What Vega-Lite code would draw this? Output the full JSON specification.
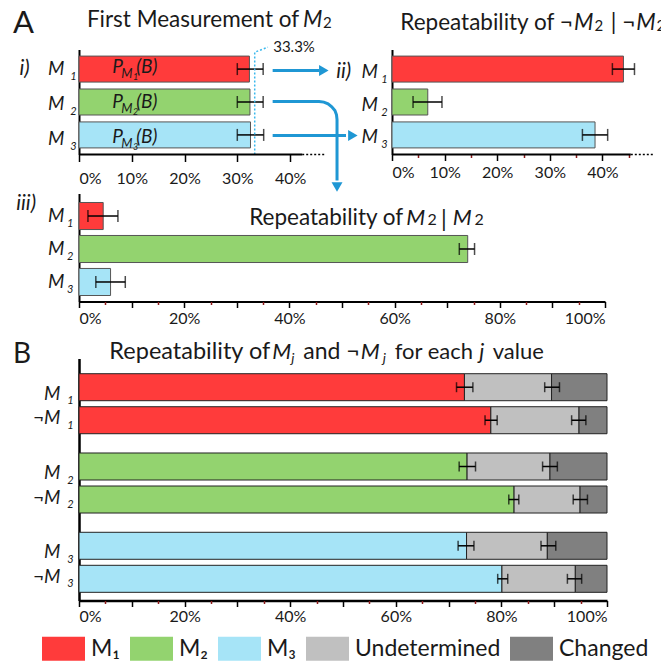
{
"$schema": "https://vega.github.io/schema/vega-lite/v6.json",
"padding": {"left": 12, "top": 7.5, "right": 0, "bottom": 0},
"background": "white",
"config": {
  "font": "Lato",
  "view": {"stroke": null},
  "axis": {"grid": false, "labelFont": "Lato", "labelColor": "#1a1a1a", "domainColor": "#000", "tickColor": "#000"},
  "text": {"color": "#1a1a1a"}
},
"datasets": {
  "dI": [{"m":"M₁","sub":"1","p":32.3,"lo":30.0,"hi":34.9},{"m":"M₂","sub":"2","p":32.4,"lo":30.0,"hi":34.9},{"m":"M₃","sub":"3","p":32.5,"lo":30.0,"hi":35.0}],
  "dII": [{"m":"M₁","sub":"1","p":44.0,"lo":41.9,"hi":46.1},{"m":"M₂","sub":"2","p":6.8,"lo":4.0,"hi":9.5},{"m":"M₃","sub":"3","p":38.6,"lo":36.2,"hi":41.0}],
  "dIII": [{"m":"M₁","sub":"1","p":4.6,"lo":1.7,"hi":7.4},{"m":"M₂","sub":"2","p":73.9,"lo":72.3,"hi":75.2},{"m":"M₃","sub":"3","p":6.0,"lo":3.2,"hi":8.8}],
  "segs": [
    {"j":"1","neg":"M","seg":"M₁","x0":0,"x1":73.0},
    {"j":"1","neg":"M","seg":"Undetermined","x0":73.0,"x1":89.5},
    {"j":"1","neg":"M","seg":"Changed","x0":89.5,"x1":100},
    {"j":"1","neg":"¬M","seg":"M₁","x0":0,"x1":78.0},
    {"j":"1","neg":"¬M","seg":"Undetermined","x0":78.0,"x1":94.7},
    {"j":"1","neg":"¬M","seg":"Changed","x0":94.7,"x1":100},
    {"j":"2","neg":"M","seg":"M₂","x0":0,"x1":73.5},
    {"j":"2","neg":"M","seg":"Undetermined","x0":73.5,"x1":89.2},
    {"j":"2","neg":"M","seg":"Changed","x0":89.2,"x1":100},
    {"j":"2","neg":"¬M","seg":"M₂","x0":0,"x1":82.4},
    {"j":"2","neg":"¬M","seg":"Undetermined","x0":82.4,"x1":94.9},
    {"j":"2","neg":"¬M","seg":"Changed","x0":94.9,"x1":100},
    {"j":"3","neg":"M","seg":"M₃","x0":0,"x1":73.4},
    {"j":"3","neg":"M","seg":"Undetermined","x0":73.4,"x1":88.7},
    {"j":"3","neg":"M","seg":"Changed","x0":88.7,"x1":100},
    {"j":"3","neg":"¬M","seg":"M₃","x0":0,"x1":80.1},
    {"j":"3","neg":"¬M","seg":"Undetermined","x0":80.1,"x1":94.0},
    {"j":"3","neg":"¬M","seg":"Changed","x0":94.0,"x1":100}
  ],
  "errB": [
    {"j":"1","neg":"M","lo":71.5,"hi":74.6},{"j":"1","neg":"M","lo":88.2,"hi":91.0},
    {"j":"1","neg":"¬M","lo":76.9,"hi":79.2},{"j":"1","neg":"¬M","lo":93.3,"hi":96.0},
    {"j":"2","neg":"M","lo":72.0,"hi":75.1},{"j":"2","neg":"M","lo":87.8,"hi":90.6},
    {"j":"2","neg":"¬M","lo":81.4,"hi":83.3},{"j":"2","neg":"¬M","lo":93.6,"hi":96.3},
    {"j":"3","neg":"M","lo":71.8,"hi":74.8},{"j":"3","neg":"M","lo":87.5,"hi":90.3},
    {"j":"3","neg":"¬M","lo":79.3,"hi":81.2},{"j":"3","neg":"¬M","lo":92.5,"hi":95.2}
  ],
  "labB": [
    {"j":"1","neg":"M","lab":"M","sub":"1"},{"j":"1","neg":"¬M","lab":"¬M","sub":"1"},
    {"j":"2","neg":"M","lab":"M","sub":"2"},{"j":"2","neg":"¬M","lab":"¬M","sub":"2"},
    {"j":"3","neg":"M","lab":"M","sub":"3"},{"j":"3","neg":"¬M","lab":"¬M","sub":"3"}
  ],
  "arrows": [
    {"a":"m1","o":0,"x":36.7,"y":1.04},{"a":"m1","o":1,"x":45.5,"y":1.04},
    {"a":"m3","o":0,"x":36.7,"y":3.02},{"a":"m3","o":1,"x":50.6,"y":3.02},
    {"a":"m2","o":0,"x":36.7,"y":1.985},{"a":"m2","o":1,"x":45.5,"y":1.985},{"a":"m2","o":2,"x":46.4,"y":2.003},{"a":"m2","o":3,"x":47.2,"y":2.057},{"a":"m2","o":4,"x":47.9,"y":2.146},{"a":"m2","o":5,"x":48.5,"y":2.258},{"a":"m2","o":6,"x":48.8,"y":2.389},{"a":"m2","o":7,"x":48.9,"y":2.532},{"a":"m2","o":8,"x":48.9,"y":4.384}
  ],
  "heads": [{"dir":"right","x":46.4,"y":1.04},{"dir":"right","x":51.9,"y":3.02},{"dir":"down","x":48.9,"y":4.582}],
  "dotline": [{"o":0,"x":33.3,"y":3.595},{"o":1,"x":33.3,"y":0.487},{"o":2,"x":35.8,"y":0.335}]
},
"vconcat": [
  {
    "vconcat": [
      {
        "hconcat": [
          {
            "width": 248, "height": 105,
            "data": {"name": "dI"},
            "layer": [
              {"mark": {"type": "bar", "stroke": "#555", "strokeWidth": 1},
               "encoding": {"y": {"field": "m", "type": "nominal", "scale": {"domain": ["M₁","M₂","M₃"], "paddingInner": 0.21, "paddingOuter": 0.2}, "axis": {"labels": false, "ticks": false, "title": null, "domainWidth": 2}},
                            "x": {"field": "p", "type": "quantitative", "scale": {"domain": [0,47], "nice": false, "zero": false}, "axis": {"values": [0,10,20,30,40], "labelExpr": "datum.value + '%'", "domain": false, "tickSize": 7, "tickWidth": 1.5, "labelFontSize": 16, "labelPadding": 9, "title": null}},
                            "color": {"field": "m", "type": "nominal", "scale": {"domain": ["M₁","M₂","M₃","Undetermined","Changed"], "range": ["#ff3b3b","#93d36f","#a6e4f7","#c0c0c0","#808080"]}, "legend": null}}},
              {"mark": {"type": "rule", "strokeWidth": 1.5, "color": "#000"},
               "encoding": {"y": {"field": "m", "type": "nominal", "scale": {"domain": ["M₁","M₂","M₃"], "paddingInner": 0.21, "paddingOuter": 0.2}, "axis": null},
                            "x": {"field": "lo", "type": "quantitative", "scale": {"domain": [0,47], "nice": false, "zero": false}, "axis": null}, "x2": {"field": "hi"}}},
              {"mark": {"type": "tick", "thickness": 1.5, "size": 12, "color": "#000"},
               "encoding": {"y": {"field": "m", "type": "nominal", "scale": {"domain": ["M₁","M₂","M₃"], "paddingInner": 0.21, "paddingOuter": 0.2}, "axis": null},
                            "x": {"field": "lo", "type": "quantitative", "scale": {"domain": [0,47], "nice": false, "zero": false}, "axis": null}}},
              {"mark": {"type": "tick", "thickness": 1.5, "size": 12, "color": "#000"},
               "encoding": {"y": {"field": "m", "type": "nominal", "scale": {"domain": ["M₁","M₂","M₃"], "paddingInner": 0.21, "paddingOuter": 0.2}, "axis": null},
                            "x": {"field": "hi", "type": "quantitative", "scale": {"domain": [0,47], "nice": false, "zero": false}, "axis": null}}},
              {"mark": {"type": "text", "text": "P", "align": "left", "baseline": "alphabetic", "dx": 33.2, "dy": 6.4, "fontSize": 19, "fontStyle": "italic"},
               "encoding": {"y": {"field": "m", "type": "nominal", "scale": {"domain": ["M₁","M₂","M₃"], "paddingInner": 0.21, "paddingOuter": 0.2}, "axis": null},
                            "x": {"datum": 0, "scale": {"domain": [0,47], "nice": false, "zero": false}, "axis": null}}},
              {"mark": {"type": "text", "text": "M", "align": "left", "baseline": "alphabetic", "dx": 42.2, "dy": 11.4, "fontSize": 13, "fontStyle": "italic"},
               "encoding": {"y": {"field": "m", "type": "nominal", "scale": {"domain": ["M₁","M₂","M₃"], "paddingInner": 0.21, "paddingOuter": 0.2}, "axis": null},
                            "x": {"datum": 0, "scale": {"domain": [0,47], "nice": false, "zero": false}, "axis": null}}},
              {"mark": {"type": "text", "align": "left", "baseline": "alphabetic", "dx": 53.9, "dy": 13.1, "fontSize": 9, "fontStyle": "italic"},
               "encoding": {"y": {"field": "m", "type": "nominal", "scale": {"domain": ["M₁","M₂","M₃"], "paddingInner": 0.21, "paddingOuter": 0.2}, "axis": null},
                            "x": {"datum": 0, "scale": {"domain": [0,47], "nice": false, "zero": false}, "axis": null}, "text": {"field": "sub"}}},
              {"mark": {"type": "text", "text": "(B)", "align": "left", "baseline": "alphabetic", "dx": 57.2, "dy": 6.4, "fontSize": 19, "fontStyle": "italic"},
               "encoding": {"y": {"field": "m", "type": "nominal", "scale": {"domain": ["M₁","M₂","M₃"], "paddingInner": 0.21, "paddingOuter": 0.2}, "axis": null},
                            "x": {"datum": 0, "scale": {"domain": [0,47], "nice": false, "zero": false}, "axis": null}}},
              {"mark": {"type": "text", "text": "M", "align": "right", "baseline": "alphabetic", "dx": -14.5, "dy": 8.1, "fontSize": 19, "fontStyle": "italic"},
               "encoding": {"y": {"field": "m", "type": "nominal", "scale": {"domain": ["M₁","M₂","M₃"], "paddingInner": 0.21, "paddingOuter": 0.2}, "axis": null},
                            "x": {"datum": 0, "scale": {"domain": [0,47], "nice": false, "zero": false}, "axis": null}}},
              {"mark": {"type": "text", "align": "left", "baseline": "alphabetic", "dx": -8.8, "dy": 13.1, "fontSize": 11, "fontStyle": "italic"},
               "encoding": {"y": {"field": "m", "type": "nominal", "scale": {"domain": ["M₁","M₂","M₃"], "paddingInner": 0.21, "paddingOuter": 0.2}, "axis": null},
                            "x": {"datum": 0, "scale": {"domain": [0,47], "nice": false, "zero": false}, "axis": null}, "text": {"field": "sub"}}},
              {"transform": [{"filter": "datum.m == 'M₁'"}],
               "mark": {"type": "text", "text": "i)", "align": "left", "baseline": "alphabetic", "dx": -59.5, "dy": 8, "fontSize": 21, "fontStyle": "italic"},
               "encoding": {"y": {"field": "m", "type": "nominal", "scale": {"domain": ["M₁","M₂","M₃"], "paddingInner": 0.21, "paddingOuter": 0.2}, "axis": null},
                            "x": {"datum": 0, "scale": {"domain": [0,47], "nice": false, "zero": false}, "axis": null}}},
              {"transform": [{"filter": "datum.m == 'M₁'"}],
               "mark": {"type": "text", "text": "A", "align": "left", "baseline": "alphabetic", "dx": -66.1, "dy": -33.6, "fontSize": 31},
               "encoding": {"y": {"field": "m", "type": "nominal", "scale": {"domain": ["M₁","M₂","M₃"], "paddingInner": 0.21, "paddingOuter": 0.2}, "axis": null},
                            "x": {"datum": 0, "scale": {"domain": [0,47], "nice": false, "zero": false}, "axis": null}}},
              {"transform": [{"filter": "datum.m == 'M₁'"}],
               "mark": {"type": "text", "text": "First Measurement of", "align": "right", "baseline": "alphabetic", "dx": 220.2, "dy": -40.3, "fontSize": 22.5},
               "encoding": {"y": {"field": "m", "type": "nominal", "scale": {"domain": ["M₁","M₂","M₃"], "paddingInner": 0.21, "paddingOuter": 0.2}, "axis": null},
                            "x": {"datum": 0, "scale": {"domain": [0,47], "nice": false, "zero": false}, "axis": null}}},
              {"transform": [{"filter": "datum.m == 'M₁'"}],
               "mark": {"type": "text", "text": "M", "align": "left", "baseline": "alphabetic", "dx": 223.9, "dy": -40.3, "fontSize": 22.5, "fontStyle": "italic"},
               "encoding": {"y": {"field": "m", "type": "nominal", "scale": {"domain": ["M₁","M₂","M₃"], "paddingInner": 0.21, "paddingOuter": 0.2}, "axis": null},
                            "x": {"datum": 0, "scale": {"domain": [0,47], "nice": false, "zero": false}, "axis": null}}},
              {"transform": [{"filter": "datum.m == 'M₁'"}],
               "mark": {"type": "text", "text": "2", "align": "left", "baseline": "alphabetic", "dx": 244, "dy": -38.9, "fontSize": 15},
               "encoding": {"y": {"field": "m", "type": "nominal", "scale": {"domain": ["M₁","M₂","M₃"], "paddingInner": 0.21, "paddingOuter": 0.2}, "axis": null},
                            "x": {"datum": 0, "scale": {"domain": [0,47], "nice": false, "zero": false}, "axis": null}}},
              {"data": {"name": "arrows"},
               "mark": {"type": "line", "color": "#1f97d4", "strokeWidth": 3, "strokeCap": "butt"},
               "encoding": {"x": {"field": "x", "type": "quantitative", "scale": {"domain": [0,47], "nice": false, "zero": false}, "axis": null},
                            "y": {"field": "y", "type": "quantitative", "scale": {"domain": [0.405, 3.595], "reverse": true, "nice": false, "zero": false}, "axis": null},
                            "detail": {"field": "a"}, "order": {"field": "o"}}},
              {"data": {"name": "heads"},
               "mark": {"type": "point", "filled": true, "opacity": 1, "color": "#1f97d4", "size": 120},
               "encoding": {"x": {"field": "x", "type": "quantitative", "scale": {"domain": [0,47], "nice": false, "zero": false}, "axis": null},
                            "y": {"field": "y", "type": "quantitative", "scale": {"domain": [0.405, 3.595], "reverse": true, "nice": false, "zero": false}, "axis": null},
                            "shape": {"field": "dir", "type": "nominal", "scale": {"domain": ["right","down"], "range": ["triangle-right","triangle-down"]}, "legend": null}}},
              {"data": {"name": "dotline"},
               "mark": {"type": "line", "color": "#3ab8ec", "strokeWidth": 1.5, "strokeDash": [2,2]},
               "encoding": {"x": {"field": "x", "type": "quantitative", "scale": {"domain": [0,47], "nice": false, "zero": false}, "axis": null},
                            "y": {"field": "y", "type": "quantitative", "scale": {"domain": [0.405, 3.595], "reverse": true, "nice": false, "zero": false}, "axis": null},
                            "order": {"field": "o"}}},
              {"data": {"values": [{}]},
               "mark": {"type": "text", "text": "33.3%", "align": "left", "baseline": "alphabetic", "dx": 18.5, "fontSize": 15},
               "encoding": {"x": {"datum": 33.3, "scale": {"domain": [0,47], "nice": false, "zero": false}, "axis": null},
                            "y": {"datum": 0.487, "scale": {"domain": [0.405, 3.595], "reverse": true, "nice": false, "zero": false}, "axis": null}}},
              {"data": {"values": [{}]},
               "mark": {"type": "rule", "color": "#000", "strokeWidth": 2},
               "encoding": {"x": {"datum": 0, "scale": {"domain": [0,47], "nice": false, "zero": false}, "axis": null}, "x2": {"datum": 42.3},
                            "y": {"datum": 3.595, "scale": {"domain": [0.405, 3.595], "reverse": true, "nice": false, "zero": false}, "axis": null}}},
              {"data": {"values": [{}]},
               "mark": {"type": "rule", "color": "#000", "strokeWidth": 1.5, "strokeDash": [2,2]},
               "encoding": {"x": {"datum": 42.3, "scale": {"domain": [0,47], "nice": false, "zero": false}, "axis": null}, "x2": {"datum": 46.8},
                            "y": {"datum": 3.595, "scale": {"domain": [0.405, 3.595], "reverse": true, "nice": false, "zero": false}, "axis": null}}}
            ],
            "resolve": {"scale": {"y": "independent"}, "axis": {"x": "independent"}}
          },
          {
            "width": 263, "height": 105,
            "data": {"name": "dII"},
            "encoding": {"y": {"field": "m", "type": "nominal", "scale": {"domain": ["M₁","M₂","M₃"], "paddingInner": 0.21, "paddingOuter": 0.2}, "axis": {"labels": false, "ticks": false, "title": null, "domainWidth": 2}}},
            "layer": [
              {"mark": {"type": "bar", "stroke": "#555", "strokeWidth": 1},
               "encoding": {"x": {"field": "p", "type": "quantitative", "scale": {"domain": [0,50], "nice": false, "zero": false}, "axis": {"values": [0,10,20,30,40], "labelExpr": "datum.value + '%'", "domain": false, "tickSize": 6, "tickWidth": 1.5, "labelFontSize": 16, "labelPadding": 4, "title": null}},
                            "color": {"field": "m", "type": "nominal", "scale": {"domain": ["M₁","M₂","M₃","Undetermined","Changed"], "range": ["#ff3b3b","#93d36f","#a6e4f7","#c0c0c0","#808080"]}, "legend": null}}},
              {"mark": {"type": "rule", "strokeWidth": 1.5, "color": "#000"},
               "encoding": {"x": {"field": "lo", "type": "quantitative", "scale": {"domain": [0,50], "nice": false, "zero": false}, "axis": {"orient": "bottom", "values": [5,15,25,35,45], "labels": false, "domain": false, "tickColor": "#8b1a1a", "tickSize": 3, "tickWidth": 1.5, "title": null}}, "x2": {"field": "hi"}}},
              {"mark": {"type": "tick", "thickness": 1.5, "size": 12, "color": "#000"},
               "encoding": {"x": {"field": "lo", "type": "quantitative", "scale": {"domain": [0,50], "nice": false, "zero": false}, "axis": null}}},
              {"mark": {"type": "tick", "thickness": 1.5, "size": 12, "color": "#000"},
               "encoding": {"x": {"field": "hi", "type": "quantitative", "scale": {"domain": [0,50], "nice": false, "zero": false}, "axis": null}}},
              {"mark": {"type": "text", "text": "M", "align": "right", "baseline": "alphabetic", "dx": -14.1, "dy": 8.5, "fontSize": 19, "fontStyle": "italic"},
               "encoding": {"x": {"datum": 0, "scale": {"domain": [0,50], "nice": false, "zero": false}, "axis": null}}},
              {"mark": {"type": "text", "align": "left", "baseline": "alphabetic", "dx": -10.8, "dy": 13.5, "fontSize": 11, "fontStyle": "italic"},
               "encoding": {"x": {"datum": 0, "scale": {"domain": [0,50], "nice": false, "zero": false}, "axis": null}, "text": {"field": "sub"}}},
              {"transform": [{"filter": "datum.m == 'M₁'"}],
               "mark": {"type": "text", "text": "ii)", "align": "left", "baseline": "alphabetic", "dx": -55.8, "dy": 9, "fontSize": 21, "fontStyle": "italic"},
               "encoding": {"x": {"datum": 0, "scale": {"domain": [0,50], "nice": false, "zero": false}, "axis": null}}},
              {"transform": [{"filter": "datum.m == 'M₁'"}],
               "mark": {"type": "text", "text": "Repeatability of ¬", "align": "right", "baseline": "alphabetic", "dx": 180.7, "dy": -39.3, "fontSize": 22.5},
               "encoding": {"x": {"datum": 0, "scale": {"domain": [0,50], "nice": false, "zero": false}, "axis": null}}},
              {"transform": [{"filter": "datum.m == 'M₁'"}],
               "mark": {"type": "text", "text": "M", "align": "left", "baseline": "alphabetic", "dx": 181.9, "dy": -39.3, "fontSize": 22.5, "fontStyle": "italic"},
               "encoding": {"x": {"datum": 0, "scale": {"domain": [0,50], "nice": false, "zero": false}, "axis": null}}},
              {"transform": [{"filter": "datum.m == 'M₁'"}],
               "mark": {"type": "text", "text": "2", "align": "left", "baseline": "alphabetic", "dx": 202.5, "dy": -37.9, "fontSize": 15},
               "encoding": {"x": {"datum": 0, "scale": {"domain": [0,50], "nice": false, "zero": false}, "axis": null}}},
              {"transform": [{"filter": "datum.m == 'M₁'"}],
               "mark": {"type": "text", "text": "| ¬", "align": "right", "baseline": "alphabetic", "dx": 243.2, "dy": -39.3, "fontSize": 22.5},
               "encoding": {"x": {"datum": 0, "scale": {"domain": [0,50], "nice": false, "zero": false}, "axis": null}}},
              {"transform": [{"filter": "datum.m == 'M₁'"}],
               "mark": {"type": "text", "text": "M", "align": "left", "baseline": "alphabetic", "dx": 244.2, "dy": -39.3, "fontSize": 22.5, "fontStyle": "italic"},
               "encoding": {"x": {"datum": 0, "scale": {"domain": [0,50], "nice": false, "zero": false}, "axis": null}}},
              {"transform": [{"filter": "datum.m == 'M₁'"}],
               "mark": {"type": "text", "text": "2", "align": "left", "baseline": "alphabetic", "dx": 264.6, "dy": -37.9, "fontSize": 15},
               "encoding": {"x": {"datum": 0, "scale": {"domain": [0,50], "nice": false, "zero": false}, "axis": null}}},
              {"transform": [{"filter": "datum.m == 'M₁'"}],
               "mark": {"type": "rule", "color": "#000", "strokeWidth": 2},
               "encoding": {"x": {"datum": 0, "scale": {"domain": [0,50], "nice": false, "zero": false}, "axis": null}, "x2": {"datum": 45.4}, "y": {"value": "height"}}},
              {"transform": [{"filter": "datum.m == 'M₁'"}],
               "mark": {"type": "rule", "color": "#000", "strokeWidth": 1.5, "strokeDash": [2,2]},
               "encoding": {"x": {"datum": 45.4, "scale": {"domain": [0,50], "nice": false, "zero": false}, "axis": null}, "x2": {"datum": 49.9}, "y": {"value": "height"}}}
            ],
            "resolve": {"axis": {"x": "independent"}}
          }
        ],
        "spacing": 65,
        "bounds": "flush"
      },
      {
        "width": 526, "height": 108,
        "data": {"name": "dIII"},
        "encoding": {"y": {"field": "m", "type": "nominal", "scale": {"domain": ["M₁","M₂","M₃"], "paddingInner": 0.18, "paddingOuter": 0.227, "align": 0.6}, "axis": {"labels": false, "ticks": false, "title": null, "domainWidth": 2}}},
        "layer": [
          {"mark": {"type": "bar", "stroke": "#555", "strokeWidth": 1},
           "encoding": {"x": {"field": "p", "type": "quantitative", "scale": {"domain": [0,100], "nice": false, "zero": false}, "axis": {"values": [0,10,20,30,40,50,60,70,80,90,100], "labelExpr": "datum.value + '%'", "domainWidth": 2, "tickSize": 6, "tickWidth": 1.5, "labelFontSize": 16, "labelPadding": 3, "title": null}},
                        "color": {"field": "m", "type": "nominal", "scale": {"domain": ["M₁","M₂","M₃","Undetermined","Changed"], "range": ["#ff3b3b","#93d36f","#a6e4f7","#c0c0c0","#808080"]}, "legend": null}}},
          {"mark": {"type": "rule", "strokeWidth": 1.5, "color": "#000"},
           "encoding": {"x": {"field": "lo", "type": "quantitative", "scale": {"domain": [0,100], "nice": false, "zero": false}, "axis": {"orient": "bottom", "values": [5,15,25,35,45,55,65,75,85,95], "labels": false, "domain": false, "tickColor": "#8b1a1a", "tickSize": 3, "tickWidth": 1.5, "title": null}}, "x2": {"field": "hi"}}},
          {"mark": {"type": "tick", "thickness": 1.5, "size": 12, "color": "#000"},
           "encoding": {"x": {"field": "lo", "type": "quantitative", "scale": {"domain": [0,100], "nice": false, "zero": false}, "axis": null}}},
          {"mark": {"type": "tick", "thickness": 1.5, "size": 12, "color": "#000"},
           "encoding": {"x": {"field": "hi", "type": "quantitative", "scale": {"domain": [0,100], "nice": false, "zero": false}, "axis": null}}},
          {"mark": {"type": "text", "text": "M", "align": "right", "baseline": "alphabetic", "dx": -14.5, "dy": 5.8, "fontSize": 19, "fontStyle": "italic"},
           "encoding": {"x": {"datum": 0, "scale": {"domain": [0,100], "nice": false, "zero": false}, "axis": null}}},
          {"mark": {"type": "text", "align": "left", "baseline": "alphabetic", "dx": -12.1, "dy": 10.8, "fontSize": 11, "fontStyle": "italic"},
           "encoding": {"x": {"datum": 0, "scale": {"domain": [0,100], "nice": false, "zero": false}, "axis": null}, "text": {"field": "sub"}}},
          {"transform": [{"filter": "datum.m == 'M₁'"}],
           "mark": {"type": "text", "text": "iii)", "align": "left", "baseline": "alphabetic", "dx": -62.8, "dy": -6.5, "fontSize": 21, "fontStyle": "italic"},
           "encoding": {"x": {"datum": 0, "scale": {"domain": [0,100], "nice": false, "zero": false}, "axis": null}}},
          {"transform": [{"filter": "datum.m == 'M₁'"}],
           "mark": {"type": "text", "text": "Repeatability of", "align": "right", "baseline": "alphabetic", "dx": 324.2, "dy": 9.2, "fontSize": 22.5},
           "encoding": {"x": {"datum": 0, "scale": {"domain": [0,100], "nice": false, "zero": false}, "axis": null}}},
          {"transform": [{"filter": "datum.m == 'M₁'"}],
           "mark": {"type": "text", "text": "M", "align": "left", "baseline": "alphabetic", "dx": 327.2, "dy": 9.2, "fontSize": 22, "fontStyle": "italic"},
           "encoding": {"x": {"datum": 0, "scale": {"domain": [0,100], "nice": false, "zero": false}, "axis": null}}},
          {"transform": [{"filter": "datum.m == 'M₁'"}],
           "mark": {"type": "text", "text": "2", "align": "left", "baseline": "alphabetic", "dx": 348.5, "dy": 9.2, "fontSize": 16},
           "encoding": {"x": {"datum": 0, "scale": {"domain": [0,100], "nice": false, "zero": false}, "axis": null}}},
          {"transform": [{"filter": "datum.m == 'M₁'"}],
           "mark": {"type": "text", "text": "|", "align": "center", "baseline": "alphabetic", "dx": 364.9, "dy": 10.5, "fontSize": 23},
           "encoding": {"x": {"datum": 0, "scale": {"domain": [0,100], "nice": false, "zero": false}, "axis": null}}},
          {"transform": [{"filter": "datum.m == 'M₁'"}],
           "mark": {"type": "text", "text": "M", "align": "left", "baseline": "alphabetic", "dx": 373.7, "dy": 9.2, "fontSize": 22, "fontStyle": "italic"},
           "encoding": {"x": {"datum": 0, "scale": {"domain": [0,100], "nice": false, "zero": false}, "axis": null}}},
          {"transform": [{"filter": "datum.m == 'M₁'"}],
           "mark": {"type": "text", "text": "2", "align": "left", "baseline": "alphabetic", "dx": 395.5, "dy": 9.2, "fontSize": 16},
           "encoding": {"x": {"datum": 0, "scale": {"domain": [0,100], "nice": false, "zero": false}, "axis": null}}}
        ],
        "resolve": {"axis": {"x": "independent"}}
      }
    ],
    "spacing": 0
  },
  {
    "width": 528, "height": 242,
    "encoding": {
      "y": {"field": "j", "type": "nominal", "scale": {"domain": ["1","2","3"], "paddingInner": 0.243, "paddingOuter": 0.1475, "align": 0.65}, "axis": {"labels": false, "ticks": false, "title": null, "domainWidth": 2.5}},
      "yOffset": {"field": "neg", "type": "nominal", "scale": {"domain": ["M","¬M"], "paddingInner": 0.182, "paddingOuter": 0}}
    },
    "layer": [
      {"data": {"name": "segs"},
       "mark": {"type": "bar", "stroke": "#222", "strokeWidth": 1},
       "encoding": {"x": {"field": "x0", "type": "quantitative", "scale": {"domain": [0,100], "nice": false, "zero": false}, "axis": {"values": [0,10,20,30,40,50,60,70,80,90,100], "labelExpr": "datum.value % 20 == 0 ? datum.value + '%' : ''", "domainWidth": 2.5, "tickSize": 6, "tickWidth": 1.5, "labelFontSize": 16, "labelPadding": 2, "title": null}},
                    "x2": {"field": "x1"},
                    "color": {"field": "seg", "type": "nominal", "scale": {"domain": ["M₁","M₂","M₃","Undetermined","Changed"], "range": ["#ff3b3b","#93d36f","#a6e4f7","#c0c0c0","#808080"]},
                              "legend": {"orient": "none", "legendX": -37, "legendY": 268.5, "direction": "horizontal", "title": null,
                                         "symbolType": "M-1,-0.56L1,-0.56L1,0.56L-1,0.56Z", "symbolSize": 1849, "symbolStrokeWidth": 0,
                                         "labelFontSize": 23, "labelFont": "Lato", "labelOffset": 6, "columnPadding": 9, "padding": 0,
                                         "labelColor": "#1a1a1a"}}}},
      {"data": {"name": "errB"},
       "mark": {"type": "rule", "strokeWidth": 1.5, "color": "#000"},
       "encoding": {"x": {"field": "lo", "type": "quantitative", "scale": {"domain": [0,100], "nice": false, "zero": false}, "axis": {"orient": "bottom", "values": [5,15,25,35,45,55,65,75,85,95], "labels": false, "domain": false, "tickColor": "#8b1a1a", "tickSize": 3, "tickWidth": 1.5, "title": null}}, "x2": {"field": "hi"}}},
      {"data": {"name": "errB"},
       "mark": {"type": "tick", "thickness": 1.5, "size": 10, "color": "#000"},
       "encoding": {"x": {"field": "lo", "type": "quantitative", "scale": {"domain": [0,100], "nice": false, "zero": false}, "axis": null}}},
      {"data": {"name": "errB"},
       "mark": {"type": "tick", "thickness": 1.5, "size": 10, "color": "#000"},
       "encoding": {"x": {"field": "hi", "type": "quantitative", "scale": {"domain": [0,100], "nice": false, "zero": false}, "axis": null}}},
      {"data": {"name": "labB"}, "transform": [{"filter": "datum.neg == 'M'"}],
       "mark": {"type": "text", "align": "right", "baseline": "alphabetic", "dx": -18.5, "dy": 12.5, "fontSize": 19, "fontStyle": "italic"},
       "encoding": {"x": {"datum": 0, "scale": {"domain": [0,100], "nice": false, "zero": false}, "axis": null}, "text": {"field": "lab"}}},
      {"data": {"name": "labB"}, "transform": [{"filter": "datum.neg == 'M'"}],
       "mark": {"type": "text", "align": "left", "baseline": "alphabetic", "dx": -11.8, "dy": 17, "fontSize": 11, "fontStyle": "italic"},
       "encoding": {"x": {"datum": 0, "scale": {"domain": [0,100], "nice": false, "zero": false}, "axis": null}, "text": {"field": "sub"}}},
      {"data": {"name": "labB"}, "transform": [{"filter": "datum.neg != 'M'"}],
       "mark": {"type": "text", "align": "right", "baseline": "alphabetic", "dx": -18.5, "dy": 4, "fontSize": 19, "fontStyle": "italic"},
       "encoding": {"x": {"datum": 0, "scale": {"domain": [0,100], "nice": false, "zero": false}, "axis": null}, "text": {"field": "lab"}}},
      {"data": {"name": "labB"}, "transform": [{"filter": "datum.neg != 'M'"}],
       "mark": {"type": "text", "align": "left", "baseline": "alphabetic", "dx": -11.8, "dy": 8.5, "fontSize": 11, "fontStyle": "italic"},
       "encoding": {"x": {"datum": 0, "scale": {"domain": [0,100], "nice": false, "zero": false}, "axis": null}, "text": {"field": "sub"}}},
      {"data": {"name": "labB"}, "transform": [{"filter": "datum.j == '1' && datum.neg == 'M'"}],
       "mark": {"type": "text", "text": "B", "align": "left", "baseline": "alphabetic", "dx": -66.1, "dy": -24.4, "fontSize": 28},
       "encoding": {"x": {"datum": 0, "scale": {"domain": [0,100], "nice": false, "zero": false}, "axis": null}}},
      {"data": {"name": "labB"}, "transform": [{"filter": "datum.j == '1' && datum.neg == 'M'"}],
       "mark": {"type": "text", "text": "Repeatability of", "align": "right", "baseline": "alphabetic", "dx": 191.2, "dy": -28.2, "fontSize": 23.5},
       "encoding": {"x": {"datum": 0, "scale": {"domain": [0,100], "nice": false, "zero": false}, "axis": null}}},
      {"data": {"name": "labB"}, "transform": [{"filter": "datum.j == '1' && datum.neg == 'M'"}],
       "mark": {"type": "text", "text": "M", "align": "left", "baseline": "alphabetic", "dx": 193.2, "dy": -28.2, "fontSize": 22, "fontStyle": "italic"},
       "encoding": {"x": {"datum": 0, "scale": {"domain": [0,100], "nice": false, "zero": false}, "axis": null}}},
      {"data": {"name": "labB"}, "transform": [{"filter": "datum.j == '1' && datum.neg == 'M'"}],
       "mark": {"type": "text", "text": "j", "align": "left", "baseline": "alphabetic", "dx": 212.2, "dy": -24.2, "fontSize": 14, "fontStyle": "italic"},
       "encoding": {"x": {"datum": 0, "scale": {"domain": [0,100], "nice": false, "zero": false}, "axis": null}}},
      {"data": {"name": "labB"}, "transform": [{"filter": "datum.j == '1' && datum.neg == 'M'"}],
       "mark": {"type": "text", "text": "and ¬", "align": "left", "baseline": "alphabetic", "dx": 224.2, "dy": -28.2, "fontSize": 23},
       "encoding": {"x": {"datum": 0, "scale": {"domain": [0,100], "nice": false, "zero": false}, "axis": null}}},
      {"data": {"name": "labB"}, "transform": [{"filter": "datum.j == '1' && datum.neg == 'M'"}],
       "mark": {"type": "text", "text": "M", "align": "left", "baseline": "alphabetic", "dx": 281.7, "dy": -28.2, "fontSize": 22, "fontStyle": "italic"},
       "encoding": {"x": {"datum": 0, "scale": {"domain": [0,100], "nice": false, "zero": false}, "axis": null}}},
      {"data": {"name": "labB"}, "transform": [{"filter": "datum.j == '1' && datum.neg == 'M'"}],
       "mark": {"type": "text", "text": "j", "align": "left", "baseline": "alphabetic", "dx": 303.7, "dy": -24.2, "fontSize": 14, "fontStyle": "italic"},
       "encoding": {"x": {"datum": 0, "scale": {"domain": [0,100], "nice": false, "zero": false}, "axis": null}}},
      {"data": {"name": "labB"}, "transform": [{"filter": "datum.j == '1' && datum.neg == 'M'"}],
       "mark": {"type": "text", "text": "for each", "align": "left", "baseline": "alphabetic", "dx": 315.7, "dy": -28.2, "fontSize": 22},
       "encoding": {"x": {"datum": 0, "scale": {"domain": [0,100], "nice": false, "zero": false}, "axis": null}}},
      {"data": {"name": "labB"}, "transform": [{"filter": "datum.j == '1' && datum.neg == 'M'"}],
       "mark": {"type": "text", "text": "j", "align": "left", "baseline": "alphabetic", "dx": 400.2, "dy": -28.2, "fontSize": 22, "fontStyle": "italic"},
       "encoding": {"x": {"datum": 0, "scale": {"domain": [0,100], "nice": false, "zero": false}, "axis": null}}},
      {"data": {"name": "labB"}, "transform": [{"filter": "datum.j == '1' && datum.neg == 'M'"}],
       "mark": {"type": "text", "text": "value", "align": "left", "baseline": "alphabetic", "dx": 413.7, "dy": -28.2, "fontSize": 22},
       "encoding": {"x": {"datum": 0, "scale": {"domain": [0,100], "nice": false, "zero": false}, "axis": null}}}
    ],
    "resolve": {"axis": {"x": "independent"}}
  }
],
"spacing": 13,
"resolve": {"scale": {"color": "independent"}}
}
